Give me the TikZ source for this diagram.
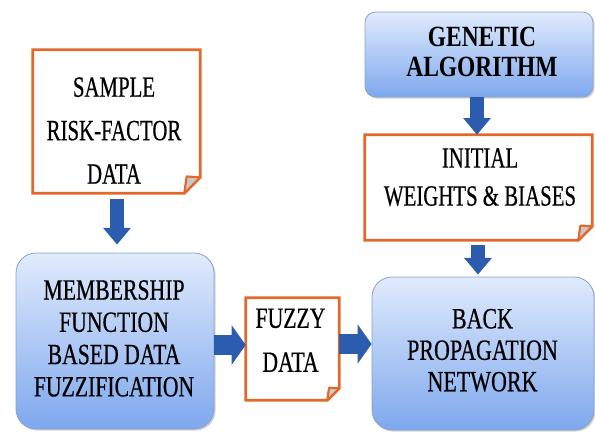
\documentclass[tikz,border=0pt]{standalone}
\usepackage{fontspec}
\setmainfont{Liberation Serif}[UprightFeatures={FakeBold=0.6}]
\usetikzlibrary{arrows.meta,shadows,fit,calc}
\definecolor{docorange}{HTML}{E2692A}
\definecolor{flapgray}{HTML}{C9C9C9}
\definecolor{boxtop}{HTML}{E0EBFC}
\definecolor{boxbot}{HTML}{7EA8EE}
\definecolor{boxline}{HTML}{8AA2C8}
\definecolor{arrowblue}{HTML}{2C5CAD}
\newcommand{\cond}[2]{\scalebox{#1}[1]{\begin{tabular}{@{}c@{}}#2\end{tabular}}}
\tikzset{
  bluebox/.style={draw=boxline, line width=0.6pt, top color=boxtop, bottom color=boxbot,
    drop shadow={shadow xshift=1.2pt, shadow yshift=-1.2pt, opacity=0.35}},
  docline/.style={draw=docorange, line width=2.2pt, fill=white, line join=miter},
  flapline/.style={draw=docorange, line width=1.6pt, fill=flapgray, line join=round},
  vtext/.style={align=center, inner sep=0pt, text=black},
  varrow/.style={draw=arrowblue, line width=10.5pt, -{Triangle[width=20pt,length=12.5pt]}},
  harrow/.style={draw=arrowblue, line width=15pt, -{Triangle[width=29pt,length=10.5pt]}},
  placeholder/.style={inner sep=0pt, draw=none}
}
\begin{document}
\begin{tikzpicture}[x=0.75pt,y=-0.75pt]
\useasboundingbox (0,0) rectangle (595,433);

% ---------- blue boxes ----------
\node[bluebox, rounded corners=15pt, minimum width=198*0.75pt, minimum height=176*0.75pt] (memb) at (115,341) {};
\node[bluebox, rounded corners=15pt, minimum width=222*0.75pt, minimum height=153*0.75pt] (back) at (483,353.5) {};
\node[bluebox, rounded corners=8pt, minimum width=228*0.75pt, minimum height=85*0.75pt] (gen) at (479,54.5) {};

% ---------- document shapes ----------
\coordinate (sNW) at (33,50);  \coordinate (sSE) at (200,193);
\coordinate (fNW) at (246,298); \coordinate (fSE) at (339,400);
\coordinate (iNW) at (365,135); \coordinate (iSE) at (592,240);
\node[placeholder, fit=(sNW)(sSE)] (samp) {};
\node[placeholder, fit=(fNW)(fSE)] (fuzzy) {};
\node[placeholder, fit=(iNW)(iSE)] (init) {};

\foreach \n/\d in {samp/16, fuzzy/12, init/14}{
  \draw[docline] (\n.north west) -- (\n.north east) -- ($(\n.south east)+(0,-\d)$)
     -- ($(\n.south east)+(-\d,0)$) -- (\n.south west) -- cycle;
  \draw[flapline] ($(\n.south east)+(0,-\d)$) -- ($(\n.south east)+(-0.85*\d,-1.05*\d)$)
     -- ($(\n.south east)+(-\d,0)$) -- cycle;
}

% ---------- texts ----------
\node[vtext, font=\fontsize{22}{32.6}\selectfont] (sampt) at (114,131.5) {\cond{0.71}{SAMPLE\\RISK-FACTOR\\DATA}};
\node[vtext, font=\fontsize{22}{24.2}\selectfont] (membt) at (114,341.5) {\cond{0.74}{MEMBERSHIP\\FUNCTION\\BASED DATA\\FUZZIFICATION}};
\node[vtext, font=\fontsize{22}{33}\selectfont] (fuzzyt) at (290.5,341) {\cond{0.74}{FUZZY\\DATA}};
\node[vtext, font=\fontsize{22}{23.6}\selectfont] (backt) at (482.5,353.5) {\cond{0.75}{BACK\\PROPAGATION\\NETWORK}};
\node[vtext, font=\fontsize{22}{22.5}\selectfont\bfseries] (gent) at (482,55) {\cond{0.8}{GENETIC\\ALGORITHM}};
\node[vtext, font=\fontsize{22}{28.5}\selectfont] (initt) at (480,179) {\cond{0.71}{INITIAL\\WEIGHTS \& BIASES}};

% ---------- arrows ----------
\draw[varrow] ($(samp.south)+(0.5,6)$) -- ($(memb.north)+(2,-8)$);
\draw[varrow] ($(gen.south)+(-2,0)$) -- ($(init.north)+(-1.5,0)$);
\draw[varrow] ($(init.south)+(-0.5,5)$) -- ($(back.north)+(-5,-2)$);
\draw[harrow] (memb.east |- 0,345) -- (fuzzy.west |- 0,345);
\draw[harrow] (fuzzy.east |- 0,344) -- (back.west |- 0,344);
\end{tikzpicture}
\end{document}
